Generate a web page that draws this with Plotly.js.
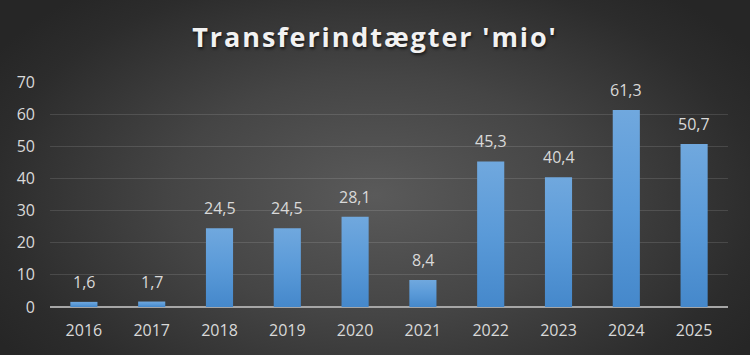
<!DOCTYPE html>
<html>
<head>
<meta charset="utf-8">
<script src="https://cdn.plot.ly/plotly-3.0.1.min.js"></script>
<style>
  html, body { margin: 0; padding: 0; }
  #chart {
    width: 750px; height: 355px;
    background: radial-gradient(ellipse 60% 75% at 50% 55%, #5a5a5a 0%, #454545 45%, #2c2c2c 85%, #262626 100%);
  }
  .gtitle { letter-spacing: 1.9px; text-shadow: 1px 2px 3px rgba(0,0,0,0.6); }
</style>
</head>
<body>
<div id="chart"></div>
<script>
const years = ['2016','2017','2018','2019','2020','2021','2022','2023','2024','2025'];
const values = [1.6, 1.7, 24.5, 24.5, 28.1, 8.4, 45.3, 40.4, 61.3, 50.7];
const yTicks = [0, 10, 20, 30, 40, 50, 60, 70];
const titleText = "Transferindtægter 'mio'";

const fmt = v => v.toFixed(1).replace('.', ',');
const labelColor = '#d9d9d9';
const fontFam = '"Open Sans", "Noto Sans", sans-serif';

const trace = {
  type: 'bar',
  x: years,
  y: values,
  text: values.map(fmt),
  textposition: 'none',
  marker: { color: '#5b9bd5', line: { width: 0 } },
  hoverinfo: 'none'
};

const annotations = years.map((yr, i) => ({
  x: i, y: values[i], text: fmt(values[i]),
  xref: 'x', yref: 'y', showarrow: false,
  yanchor: 'bottom', yshift: 7,
  font: { family: fontFam, size: 16, color: labelColor }
}));

const layout = {
  width: 750, height: 355,
  paper_bgcolor: 'rgba(0,0,0,0)',
  plot_bgcolor: 'rgba(0,0,0,0)',
  margin: { l: 50, r: 22, t: 82, b: 48 },
  title: {
    text: titleText,
    x: 0.5, xanchor: 'center',
    y: 0.893, yanchor: 'middle',
    font: { family: fontFam, size: 27, color: '#f2f2f2', weight: 'bold' }
  },
  bargap: 0.6,
  showlegend: false,
  xaxis: {
    type: 'category',
    categoryorder: 'array',
    categoryarray: years,
    range: [-0.5, years.length - 0.5],
    showgrid: false,
    showline: false,
    zeroline: false,
    ticks: '',
    ticklabelstandoff: 12,
    tickfont: { family: fontFam, size: 16, color: labelColor },
    fixedrange: true
  },
  yaxis: {
    range: [0, 70],
    tickvals: yTicks,
    ticktext: yTicks.map(String),
    showgrid: true,
    gridcolor: 'rgba(255,255,255,0.12)',
    gridwidth: 1,
    zeroline: true,
    zerolinecolor: '#a6a6a6',
    zerolinewidth: 2,
    showline: false,
    ticks: '',
    ticklabelstandoff: 14,
    tickfont: { family: fontFam, size: 16, color: labelColor },
    fixedrange: true
  },
  annotations: annotations
};

Plotly.newPlot('chart', [trace], layout, { displayModeBar: false, staticPlot: true }).then(gd => {
  const svg = gd.querySelector('svg.main-svg');
  const ns = 'http://www.w3.org/2000/svg';
  let defs = svg.querySelector('defs');
  if (!defs) { defs = document.createElementNS(ns, 'defs'); svg.insertBefore(defs, svg.firstChild); }
  const lg = document.createElementNS(ns, 'linearGradient');
  lg.setAttribute('id', 'barGrad');
  lg.setAttribute('x1', '0'); lg.setAttribute('y1', '0');
  lg.setAttribute('x2', '0'); lg.setAttribute('y2', '1');
  [['0%', '#70a8de'], ['50%', '#5a9ad8'], ['100%', '#4588cb']].forEach(([o, c]) => {
    const s = document.createElementNS(ns, 'stop');
    s.setAttribute('offset', o); s.setAttribute('stop-color', c);
    lg.appendChild(s);
  });
  defs.appendChild(lg);
  gd.querySelectorAll('.bars .point path').forEach(p => { p.style.fill = 'url(#barGrad)'; });
});
</script>
</body>
</html>
